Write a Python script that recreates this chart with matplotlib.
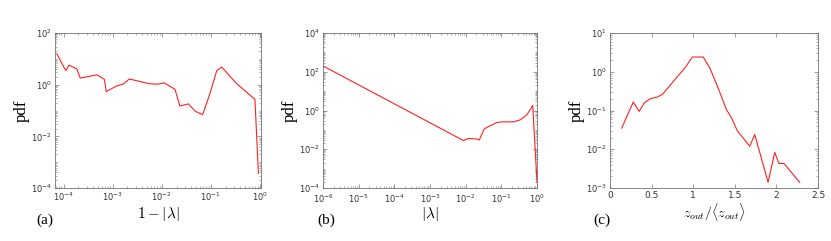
import matplotlib
matplotlib.use('Agg')
import matplotlib.pyplot as plt
import numpy as np
from matplotlib.ticker import LogLocator, NullFormatter, MultipleLocator, FixedLocator

# panel (a): pdf of 1-|lambda|
a_x = [7.3e-5, 1.11e-4, 1.30e-4, 1.86e-4, 2.19e-4, 4.8e-4, 6.8e-4, 7.4e-4,
       1.20e-3, 1.66e-3, 2.19e-3, 5.8e-3, 8.5e-3, 1.12e-2, 1.86e-2, 2.34e-2,
       3.47e-2, 4.8e-2, 6.8e-2, 9.5e-2, 0.132, 0.166, 0.288, 0.34, 0.79, 0.93]
a_y = [15.7, 3.5, 5.7, 4.1, 1.8, 2.4, 1.6, 0.54,
       0.89, 1.07, 1.66, 1.07, 1.05, 1.17, 0.66, 0.15,
       0.18, 0.094, 0.069, 0.43, 3.5, 4.8, 1.5, 1.07, 0.27, 3.7e-4]

# panel (b): pdf of |lambda|
b_x = [1e-6, 8.7e-3, 1.2e-2, 2.0e-2, 2.4e-2, 3.3e-2, 4.4e-2, 7.6e-2,
       0.105, 0.22, 0.34, 0.52, 0.76, 1.0]
b_y = [200, 0.028, 0.036, 0.034, 0.030, 0.11, 0.15, 0.24,
       0.26, 0.26, 0.33, 0.6, 1.8, 1.9e-4]

# panel (c): pdf of z_out/<z_out>
c_x = [0.14, 0.28, 0.35, 0.41, 0.48, 0.56, 0.63, 0.78, 0.90, 0.99, 1.12,
       1.20, 1.30, 1.40, 1.46, 1.53, 1.68, 1.74, 1.90, 1.98, 2.03, 2.09, 2.28]
c_y = [0.035, 0.166, 0.095, 0.155, 0.2, 0.22, 0.26, 0.63, 1.25, 2.4, 2.4,
       1.25, 0.38, 0.105, 0.065, 0.030, 0.012, 0.024, 0.0014, 0.0083, 0.0043,
       0.0043, 0.0014]

W, H = 831, 241
fig = plt.figure(figsize=(W / 100, H / 100), dpi=100)


def box(px_l, px_r, px_t=33, px_b=188):
    return [px_l / W, 1 - px_b / H, (px_r - px_l) / W, (px_b - px_t) / H]


def style(ax):
    for s in ax.spines.values():
        s.set_color('0.45')
        s.set_linewidth(0.6)
    ax.tick_params(which='both', direction='in', top=True, right=True,
                   color='0.45', labelsize=6, pad=2, labelcolor='0.2')
    ax.tick_params(which='major', length=3, width=0.5)
    ax.tick_params(which='minor', length=1.5, width=0.4)
    ax.set_ylabel('pdf', fontname='Liberation Serif', fontsize=12, labelpad=1)


red = '#ff2020'

# (a)
ax1 = fig.add_axes(box(55, 261))
ax1.loglog(a_x, a_y, color=red, lw=0.8)
ax1.set_xlim(6.7e-5, 1.05)
ax1.set_ylim(1e-4, 1e2)
ax1.xaxis.set_major_locator(FixedLocator([1e-4, 1e-3, 1e-2, 1e-1, 1e0]))
ax1.yaxis.set_major_locator(FixedLocator([1e-4, 1e-2, 1e0, 1e2]))
ax1.xaxis.set_minor_locator(LogLocator(base=10, subs=np.arange(2, 10), numticks=20))
ax1.yaxis.set_minor_locator(LogLocator(base=10, subs=np.arange(1, 10), numticks=20))
ax1.yaxis.set_minor_formatter(NullFormatter())
ax1.xaxis.set_minor_formatter(NullFormatter())
style(ax1)
ax1.set_xlabel(r'$1-|\lambda|$', math_fontfamily='cm', fontsize=11, labelpad=1)
fig.text(36 / W, 1 - 220 / H, '(a)', fontname='Liberation Serif', fontsize=11, va='center')

# (b)
ax2 = fig.add_axes(box(323, 537))
ax2.loglog(b_x, b_y, color=red, lw=0.8)
ax2.set_xlim(1e-6, 1)
ax2.set_ylim(1e-4, 1e4)
ax2.xaxis.set_major_locator(FixedLocator([1e-6, 1e-5, 1e-4, 1e-3, 1e-2, 1e-1, 1e0]))
ax2.yaxis.set_major_locator(FixedLocator([1e-4, 1e-2, 1e0, 1e2, 1e4]))
ax2.xaxis.set_minor_locator(LogLocator(base=10, subs=np.arange(2, 10), numticks=20))
ax2.yaxis.set_minor_locator(LogLocator(base=10, subs=np.arange(1, 10), numticks=20))
ax2.yaxis.set_minor_formatter(NullFormatter())
ax2.xaxis.set_minor_formatter(NullFormatter())
style(ax2)
ax2.tick_params(axis='x', pad=3)
ax2.set_xlabel(r'$|\lambda|$', math_fontfamily='cm', fontsize=11, labelpad=0)
fig.text(317 / W, 1 - 220 / H, '(b)', fontname='Liberation Serif', fontsize=11, va='center')

# (c)
ax3 = fig.add_axes(box(610, 818))
ax3.semilogy(c_x, c_y, color=red, lw=0.8)
ax3.set_xlim(0, 2.5)
ax3.set_ylim(1e-3, 1e1)
ax3.xaxis.set_major_locator(MultipleLocator(0.5))
ax3.yaxis.set_major_locator(FixedLocator([1e-3, 1e-2, 1e-1, 1e0, 1e1]))
ax3.yaxis.set_minor_locator(LogLocator(base=10, subs=np.arange(2, 10), numticks=20))
ax3.yaxis.set_minor_formatter(NullFormatter())
ax3.xaxis.set_major_formatter(plt.FuncFormatter(lambda v, p: f'{v:g}'))
style(ax3)
ax3.tick_params(axis='x', labelsize=6.5)
ax3.set_xlabel(r'$z_{out}/\langle z_{out}\rangle$', math_fontfamily='cm', fontsize=10, labelpad=1)
fig.text(593 / W, 1 - 220 / H, '(c)', fontname='Liberation Serif', fontsize=11, va='center')

fig.savefig('out.png', dpi=100)
